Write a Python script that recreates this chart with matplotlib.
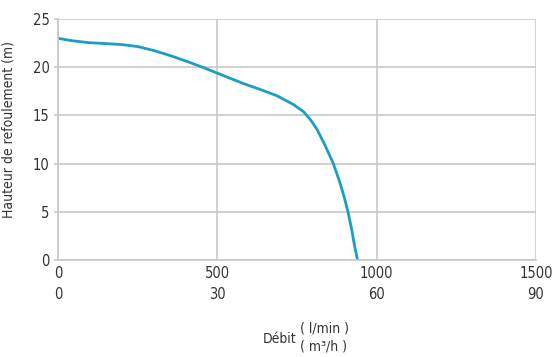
import matplotlib
matplotlib.use('Agg')
import matplotlib.pyplot as plt

# pump curve
debit_lmin = [0, 43, 95, 148, 200, 252, 304, 357, 409, 461, 514, 582, 634, 686,
              738, 770, 791, 812, 838, 864, 882, 898, 911, 922, 931, 940]
hauteur = [23.0, 22.75, 22.55, 22.45, 22.35, 22.13, 21.7, 21.15, 20.55, 19.9, 19.2, 18.3, 17.7, 17.05,
           16.15, 15.4, 14.6, 13.6, 11.9, 10.0, 8.3, 6.55, 4.85, 3.1, 1.4, 0.0]

xticks = [0, 500, 1000, 1500]
xticks_m3h = [0, 30, 60, 90]
yticks = [0, 5, 10, 15, 20, 25]

plt.rcParams['font.family'] = ['DejaVu Sans']
plt.rcParams['font.stretch'] = 'condensed'

grid_col = '#c8c8c8'
txt_col = '#333333'

fig = plt.figure(figsize=(5.55, 3.57), dpi=100)
ax = fig.add_axes([58/555, 1-260/357, (536-58)/555, (260-19)/357])

ax.plot(debit_lmin, hauteur, color='#1a9fc2', lw=2.0, solid_capstyle='round', solid_joinstyle='round')

ax.set_xlim(0, 1500)
ax.set_ylim(0, 25)
ax.set_xticks(xticks)
ax.set_xticklabels([f'{a}\n{b}' for a, b in zip(xticks, xticks_m3h)], linespacing=1.55)
ax.set_yticks(yticks)
ax.grid(True, color=grid_col, lw=1.2)
ax.set_axisbelow(True)
for s in ['top', 'right']:
    ax.spines[s].set_visible(False)
for s in ['left', 'bottom']:
    ax.spines[s].set_color(grid_col)
    ax.spines[s].set_linewidth(1.2)
ax.tick_params(axis='both', colors=grid_col, labelcolor=txt_col, labelsize=10.5, width=1.2, length=3)
ax.tick_params(axis='x', length=0, pad=4)
ax.tick_params(axis='y', pad=3)

fig.text(9/555, 1-130/357, 'Hauteur de refoulement (m)', fontsize=10, color=txt_col,
         rotation=90, ha='center', va='center')

fig.text(280/555, 1-339/357, 'Débit', fontsize=10, color=txt_col, ha='center', va='center')
fig.text(325/555, 1-328/357, '( l/min )', fontsize=10, color=txt_col, ha='center', va='center')
fig.text(323/555, 1-347/357, '( m³/h )', fontsize=10, color=txt_col, ha='center', va='center')

fig.savefig('out.png', dpi=100)
